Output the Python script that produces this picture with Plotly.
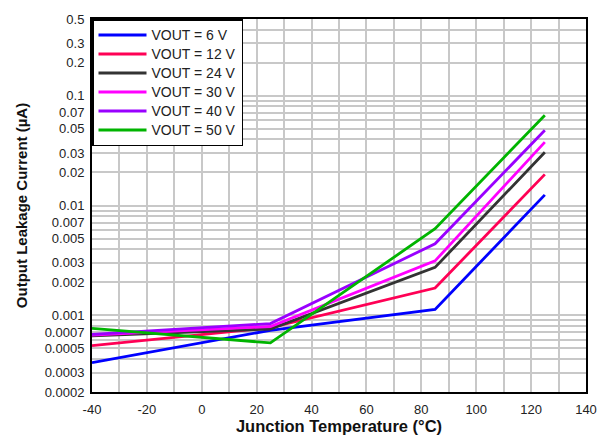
import plotly.graph_objects as go
import numpy as np

temps = [-40, 25, 85, 125]
series_names = ["VOUT = 6 V", "VOUT = 12 V", "VOUT = 24 V", "VOUT = 30 V", "VOUT = 40 V", "VOUT = 50 V"]
v6 = [0.00037, 0.00073, 0.00113, 0.0125]
v12 = [0.00053, 0.00077, 0.00177, 0.0192]
v24 = [0.00065, 0.00075, 0.00273, 0.0305]
v30 = [0.00066, 0.00079, 0.00313, 0.0378]
v40 = [0.00067, 0.00084, 0.00448, 0.0484]
v50 = [0.00076, 0.00056, 0.00614, 0.0664]
colors = ["#0000ff", "#ff0055", "#333333", "#ff00ff", "#9900ff", "#00b400"]

y_tickvals = [0.0002, 0.0003, 0.0005, 0.0007, 0.001, 0.002, 0.003, 0.005, 0.007,
              0.01, 0.02, 0.03, 0.05, 0.07, 0.1, 0.2, 0.3, 0.5]
y_ticktext = ["0.0002", "0.0003", "0.0005", "0.0007", "0.001", "0.002", "0.003", "0.005", "0.007",
              "0.01", "0.02", "0.03", "0.05", "0.07", "0.1", "0.2", "0.3", "0.5"]
x_tickvals = [-40, -20, 0, 20, 40, 60, 80, 100, 120, 140]
x_ticktext = ["-40", "-20", "0", "20", "40", "60", "80", "100", "120", "140"]

minor_y = [m * 10.0 ** e for e in range(-4, 0) for m in range(1, 10)]
minor_y = [v for v in minor_y if 0.0002 <= v <= 0.5]

fig = go.Figure()
for name, vals, c in zip(series_names, [v6, v12, v24, v30, v40, v50], colors):
    fig.add_trace(go.Scatter(x=temps, y=vals, mode="lines",
                             name="<span style='font-size:14px'>" + name + "</span>",
                             line=dict(color=c, width=2.8)))

font_family = "Liberation Sans, Arial, sans-serif"
fig.update_layout(
    width=608, height=439,
    margin=dict(l=84, r=30, t=4, b=55),
    paper_bgcolor="white", plot_bgcolor="white",
    font=dict(family=font_family, size=13, color="#222222"),
    showlegend=True,
    legend=dict(x=0, y=1, xanchor="left", yanchor="top",
                bgcolor="white", bordercolor="black", borderwidth=1.5,
                font=dict(size=12, color="#222222"), tracegroupgap=0,
                itemwidth=48),
)
fig.update_xaxes(
    range=[-40, 140], tickvals=x_tickvals, ticktext=x_ticktext,
    showgrid=True, gridcolor="#c8c8c8", gridwidth=1.5,
    minor=dict(dtick=10, tick0=0, showgrid=True, gridcolor="#c8c8c8", gridwidth=1.5),
    showline=True, linecolor="black", linewidth=2, mirror=True, ticks="", zeroline=False,
    ticklabelstandoff=4,
    title=dict(text="<b>Junction Temperature (°C)</b>", font=dict(size=16.5, color="#111111"), standoff=1),
)
fig.update_yaxes(
    type="log", range=[np.log10(0.0002) - 1e-5, np.log10(0.5) + 1e-5],
    tickvals=y_tickvals, ticktext=y_ticktext, showgrid=True, gridcolor="#c8c8c8", gridwidth=1.5,
    minor=dict(tickvals=minor_y, showgrid=True, gridcolor="#c8c8c8", gridwidth=1.5),
    showline=True, linecolor="black", linewidth=2, mirror=True, ticks="", zeroline=False,
    ticklabelstandoff=3, ticklabeloverflow="allow",
    title=dict(text="<b>Output Leakage Current (µA)</b>", font=dict(size=15, color="#111111"), standoff=13),
)
fig.write_html("out.html")
